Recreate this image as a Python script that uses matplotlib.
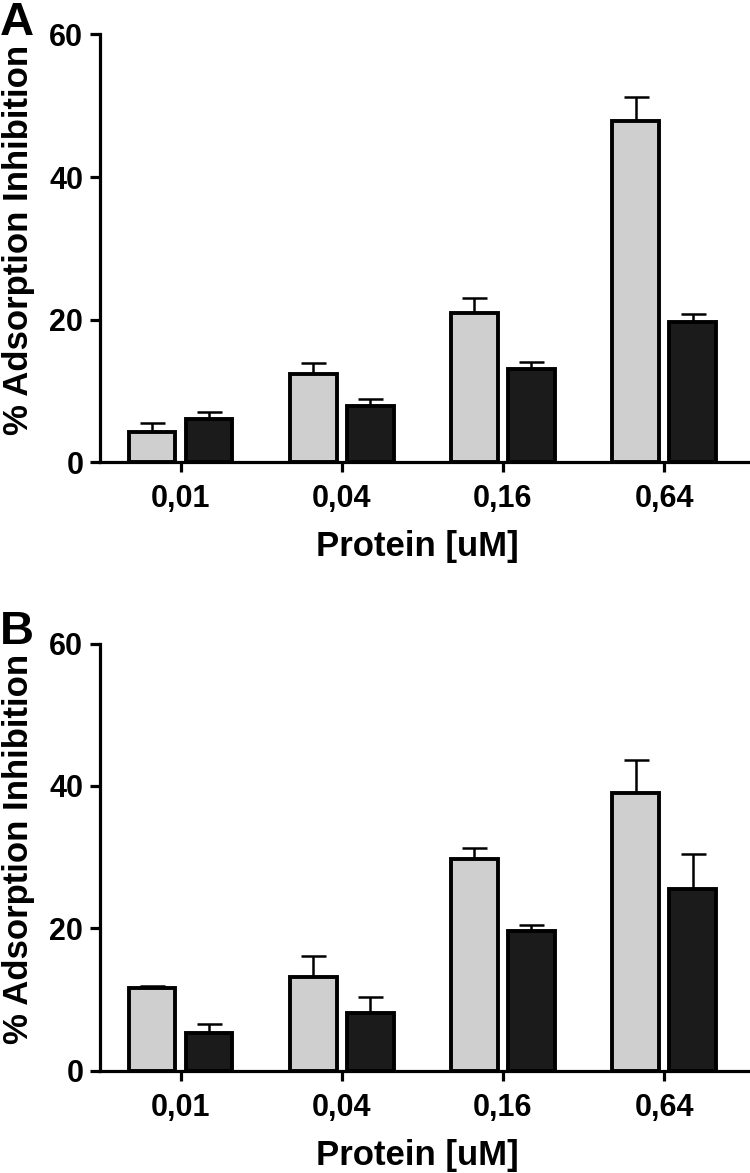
import numpy as np
import matplotlib
matplotlib.use('Agg')
import matplotlib.pyplot as plt

# protein concentrations (x categories)
concentrations = ['0,01', '0,04', '0,16', '0,64']

# panel A
a_gray = [4.2, 12.4, 20.9, 47.9]
a_gray_err = [1.3, 1.5, 2.1, 3.3]
a_black = [6.0, 7.8, 13.0, 19.7]
a_black_err = [1.0, 1.0, 1.1, 1.1]

# panel B
b_gray = [11.7, 13.2, 29.8, 39.0]
b_gray_err = [0.2, 3.0, 1.5, 4.6]
b_black = [5.3, 8.2, 19.7, 25.5]
b_black_err = [1.3, 2.2, 0.8, 5.0]

y_ticks = [0, 20, 40, 60]

plt.rcParams.update({
    'font.family': ['Liberation Sans', 'DejaVu Sans'],
    'font.weight': 'bold',
    'axes.linewidth': 2.3,
})

GRAY = '#cfcfcf'
BLACK = '#1b1b1b'


def draw_panel(ax, gray, gray_err, black, black_err):
    x = np.arange(len(concentrations))
    w = 0.29
    off = 0.177
    ax.bar(x - off, gray, w, color=GRAY, edgecolor='black', linewidth=2.8, zorder=3)
    ax.bar(x + off, black, w, color=BLACK, edgecolor='black', linewidth=2.8, zorder=3)
    ax.errorbar(x - off, gray, yerr=[np.zeros(len(gray)), gray_err], fmt='none',
                ecolor='black', elinewidth=1.8, capsize=9, capthick=1.8, zorder=2)
    ax.errorbar(x + off, black, yerr=[np.zeros(len(black)), black_err], fmt='none',
                ecolor='black', elinewidth=1.8, capsize=9, capthick=1.8, zorder=2)

    ax.set_xlim(-0.5, 3.52)
    ax.set_ylim(0, 60)
    ax.set_yticks(y_ticks)
    ax.set_xticks(x)
    ax.set_xticklabels(concentrations)
    ax.spines['top'].set_visible(False)
    ax.spines['right'].set_visible(False)
    ax.tick_params(axis='x', direction='out', length=7, width=2.3, pad=9, labelsize=22)
    ax.tick_params(axis='y', direction='out', length=7, width=2.3, pad=5, labelsize=22)
    for lab in ax.get_xticklabels() + ax.get_yticklabels():
        lab.set_fontweight('bold')

    ax.set_xlabel('Protein [uM]', fontsize=25, fontweight='bold')
    ax.xaxis.set_label_coords(0.49, -0.16)
    ax.set_ylabel('% Adsorption Inhibition', fontsize=25, fontweight='bold')
    ax.yaxis.set_label_coords(-0.1, 0.52)


fig = plt.figure(figsize=(7.5, 11.73), dpi=100)
ax_a = fig.add_axes([0.1333, 0.6061, 0.864, 0.3645])
ax_b = fig.add_axes([0.1333, 0.0870, 0.864, 0.3644])

draw_panel(ax_a, a_gray, a_gray_err, a_black, a_black_err)
draw_panel(ax_b, b_gray, b_gray_err, b_black, b_black_err)

fig.text(0.0, 0.999, 'A', fontsize=34, fontweight='bold', ha='left', va='top')
fig.text(0.0, 0.480, 'B', fontsize=34, fontweight='bold', ha='left', va='top')

fig.savefig('out.png', dpi=100)
